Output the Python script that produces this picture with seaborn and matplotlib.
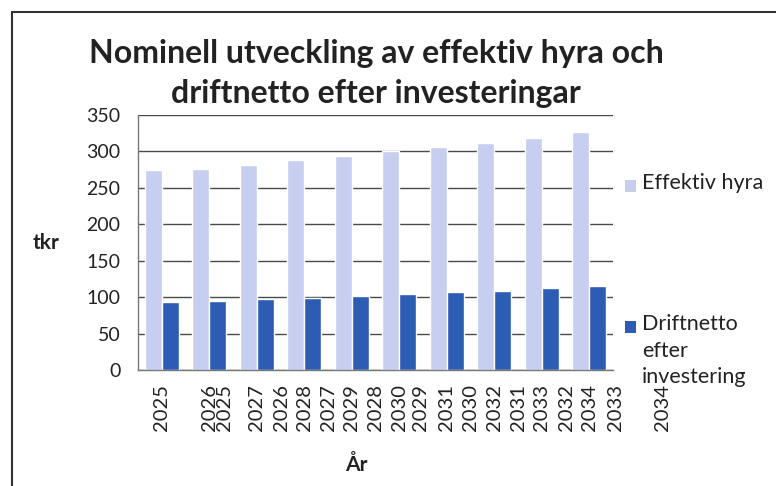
import pandas as pd
import matplotlib.pyplot as plt
import matplotlib.transforms as mtransforms
from matplotlib.lines import Line2D
from matplotlib.patches import Rectangle
import seaborn as sns

# --- data ---
years = ['2025', '2026', '2027', '2028', '2029', '2030', '2031', '2032', '2033', '2034']
effektiv_hyra = [274, 276, 282, 288, 294, 300, 306, 312, 319, 326]
driftnetto = [94, 95, 98, 99, 102, 104, 107, 109, 112, 115]
series_names = ['Effektiv hyra', 'Driftnetto\nefter\ninvestering']

# the scan shows a second, shifted row of year labels on the x axis
ghost_labels = years
ghost_pos = [1.33, 2.52, 3.5, 4.5, 5.45, 6.5, 7.5, 8.52, 9.56, 10.55]

light = '#C8CEEF'
dark = '#2C5CB4'
grid_col = '#4a4a4a'
txt_col = '#222222'

sns.set_style('white')
plt.rcParams['font.family'] = ['Lato', 'DejaVu Sans']

df = pd.DataFrame({
    'År': years * 2,
    'tkr': effektiv_hyra + driftnetto,
    'Serie': [series_names[0]] * len(years) + [series_names[1]] * len(years),
})

fig = plt.figure(figsize=(7.76, 4.86), dpi=100)
W, H = 776, 486
ax = fig.add_axes([138 / W, 1 - 370 / H, 475 / W, 255 / H])

sns.barplot(data=df, x='År', y='tkr', hue='Serie', palette=[light, dark],
            saturation=1, width=0.72, gap=0, legend=False, ax=ax)

ax.set_xlim(-0.5, 9.5)
ax.set_ylim(0, 350)
ax.set_yticks(range(0, 351, 50))
ax.yaxis.grid(True, color=grid_col, lw=1.0)
ax.set_axisbelow(True)

for s in ['top', 'right']:
    ax.spines[s].set_visible(False)
for s in ['left', 'bottom']:
    ax.spines[s].set_color('#777777')
    ax.spines[s].set_linewidth(1.0)

# ticks: y crossing, x between categories
ax.tick_params(axis='y', direction='inout', length=7, color='#777777', pad=9,
               labelsize=14, labelcolor=txt_col)
ax.tick_params(axis='x', which='major', length=0, pad=10, labelsize=14.5,
               labelcolor=txt_col, labelrotation=90)
ax.set_xticks([i - 0.5 for i in range(len(years) + 1)], minor=True)
ax.tick_params(axis='x', which='minor', length=5, color='#777777', direction='out')
for lab in ax.get_xticklabels():
    lab.set_va('top')

# second shifted label row
trans = mtransforms.blended_transform_factory(ax.transData, ax.transAxes)
for lab, p in zip(ghost_labels, ghost_pos):
    ax.text(p, -14 / 255, lab, transform=trans, rotation=90, ha='center', va='top',
            fontsize=14.5, color=txt_col, clip_on=False)

ax.set_xlabel('År', fontsize=15, fontweight='bold', color=txt_col)
ax.xaxis.set_label_coords((356 - 138) / 475, (370 - 465) / 255)
ax.xaxis.label.set_va('center')
ax.set_ylabel('tkr', fontsize=15, fontweight='bold', color=txt_col, rotation=0,
              ha='center', va='center')
ax.yaxis.set_label_coords((46 - 138) / 475, (370 - 243) / 255)

fig.suptitle('Nominell utveckling av effektiv hyra och\ndriftnetto efter investeringar',
             x=376 / W, y=1 - 39 / H, va='top', fontsize=23, fontweight='bold',
             color=txt_col, linespacing=1.45)

# legend drawn at the right, entries far apart as in the original
leg_y = [186, 327]
for name, col, yy in zip(series_names, [light, dark], leg_y):
    fig.patches.append(Rectangle((625 / W, 1 - (yy + 6) / H), 11 / W, 12 / H,
                                 transform=fig.transFigure, facecolor=col,
                                 edgecolor='none'))
    fig.text(642 / W, 1 - (yy - 13) / H, name, ha='left', va='top', fontsize=15.5,
             color=txt_col, linespacing=1.42)

# outer chart frame (left and top edges visible in the scan)
fig.add_artist(Line2D([12 / W, 12 / W], [0, 1 - 12 / H], transform=fig.transFigure,
                      color='#333333', lw=1.5))
fig.add_artist(Line2D([12 / W, 1], [1 - 12 / H, 1 - 12 / H], transform=fig.transFigure,
                      color='#333333', lw=1.5))

fig.savefig('out.png', dpi=100)
